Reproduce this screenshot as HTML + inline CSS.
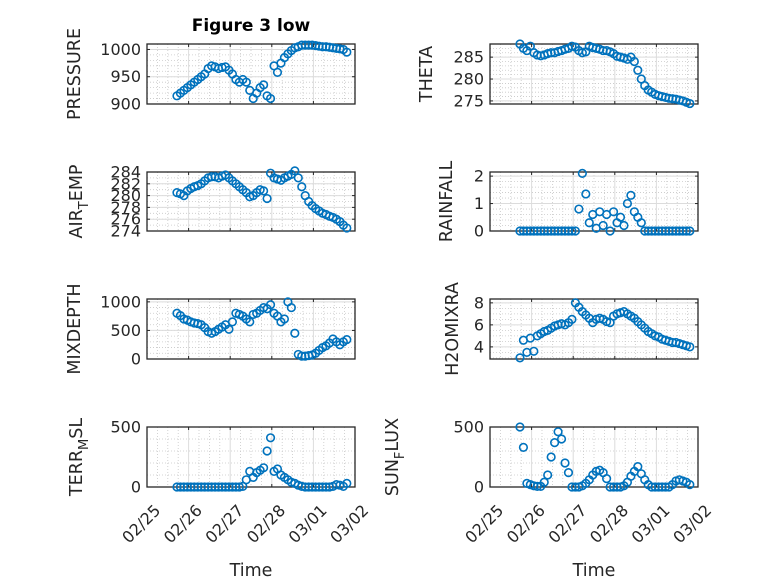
<!DOCTYPE html>
<html><head><meta charset="utf-8"><style>
html,body{margin:0;padding:0;background:#fff;}
svg{display:block;font-family:"DejaVu Sans","Liberation Sans",sans-serif;}
</style></head><body>
<svg id="fig" width="778" height="583" viewBox="0 0 778 583" xmlns="http://www.w3.org/2000/svg"></svg>
<script>
const dayTicks = ['02/25','02/26','02/27','02/28','03/01','03/02'];
const tStart = 0.72, tStep = 1/12;
const pressure = [915,920,925,930,935,940,945,950,955,965,970,968,965,967,968,962,955,945,940,945,940,925,910,920,930,935,915,910,970,958,975,985,992,998,1003,1005,1008,1008,1008,1008,1007,1006,1005,1005,1004,1003,1002,1001,1000,995];
const theta = [288,287,286.5,287.5,286,285.5,285.3,285.5,285.8,286,286,286.3,286.5,286.8,287,287.5,287.3,286.5,286,286.2,287.5,287.2,287,286.8,286.5,286.5,286.2,285.8,285.2,285,284.8,284.5,285,284,282,280,278.5,277.5,277,276.5,276.2,276,275.8,275.6,275.5,275.4,275.2,275,274.7,274.4];
const airTemp = [280.5,280.3,280,280.8,281.2,281.5,281.7,282,282.5,283,283.2,283.2,283,283.3,283.5,283,282.5,282,281.5,281,280.5,279.8,280,280.5,281,280.8,279.5,283.8,283,282.8,282.6,283,283.3,283.6,284.2,283,281.5,280,279,278.3,277.8,277.4,277,276.8,276.5,276.3,276,275.6,275,274.5];
const rainfall = [0,0,0,0,0,0,0,0,0,0,0,0,0,0,0,0,0,0.8,2.1,1.35,0.3,0.6,0.1,0.7,0.2,0.6,0,0.7,0.3,0.5,0.2,1.0,1.3,0.7,0.5,0.3,0,0,0,0,0,0,0,0,0,0,0,0,0,0];
const mixDepth = [800,760,700,680,650,630,620,600,550,480,450,480,520,560,600,520,650,800,780,750,700,650,780,800,850,900,880,950,800,750,650,700,1000,900,450,80,50,50,60,70,100,150,200,230,280,350,300,250,300,340];
const h2oMix = [3.0,4.6,3.5,4.8,3.6,5.0,5.2,5.4,5.5,5.7,5.9,6.0,6.1,6.0,6.2,6.5,8.0,7.6,7.2,6.9,6.6,6.2,6.5,6.6,6.5,6.3,6.2,6.8,7.0,7.1,7.2,7.0,6.8,6.6,6.3,6.0,5.7,5.4,5.2,5.0,4.9,4.7,4.6,4.5,4.4,4.4,4.3,4.2,4.1,4.0];
const terrMsl = [0,0,0,0,0,0,0,0,0,0,0,0,0,0,0,0,0,0,0,5,60,130,80,120,140,160,300,410,130,150,100,80,60,40,30,15,5,0,0,0,0,0,0,0,0,5,20,15,5,30];
const sunFlux = [500,330,30,20,10,5,5,40,100,250,370,460,400,200,120,0,0,0,10,30,60,100,130,140,120,70,0,0,0,0,10,40,90,130,170,110,60,20,0,0,0,0,0,0,20,50,60,50,40,20];

const NS='http://www.w3.org/2000/svg';
const svg=document.getElementById('fig');
function mk(tag,attrs,parent){const e=document.createElementNS(NS,tag);for(const k in attrs)e.setAttribute(k,attrs[k]);(parent||svg).appendChild(e);return e;}

const cols=[{x0:147,x1:355},{x0:490,x1:698}];
const rows=[{y0:44,y1:104},{y0:172,y1:231},{y0:299,y1:359},{y0:427,y1:487}];
const panels=[
 {name:'pressure',data:pressure,c:0,r:0,min:900,max:1010,ticks:[900,950,1000],minor:10,label:['PRESSURE'],lx:80},
 {name:'theta',data:theta,c:1,r:0,min:274.3,max:288,ticks:[275,280,285],minor:1,label:['THETA'],lx:432},
 {name:'air-temp',data:airTemp,c:0,r:1,min:274,max:284,ticks:[274,276,278,280,282,284],minor:1,label:['AIR','T','EMP'],lx:82},
 {name:'rainfall',data:rainfall,c:1,r:1,min:0,max:2.15,ticks:[0,1,2],minor:0.2,label:['RAINFALL'],lx:452},
 {name:'mixdepth',data:mixDepth,c:0,r:2,min:0,max:1050,ticks:[0,500,1000],minor:100,label:['MIXDEPTH'],lx:80},
 {name:'h2omixra',data:h2oMix,c:1,r:2,min:2.9,max:8.35,ticks:[4,6,8],minor:0.5,label:['H2OMIXRA'],lx:458},
 {name:'terr-msl',data:terrMsl,c:0,r:3,min:0,max:500,ticks:[0,500],minor:100,label:['TERR','M','SL'],lx:82},
 {name:'sun-flux',data:sunFlux,c:1,r:3,min:0,max:500,ticks:[0,500],minor:100,label:['SUN','F','LUX'],lx:398},
];

panels.forEach(p=>{
 const C=cols[p.c],R=rows[p.r];
 const xs=t=>C.x0+(t/5)*(C.x1-C.x0);
 const ys=v=>R.y1-(v-p.min)/(p.max-p.min)*(R.y1-R.y0);
 const g=mk('g',{});
 
 
 for(let d=0;d<5;d++)for(let k=1;k<4;k++){const x=xs(d+k/4);mk('line',{x1:x,x2:x,y1:R.y0,y2:R.y1,stroke:'#c8c8c8','stroke-width':0.8,'stroke-dasharray':'1,2'},g);}
 const mStart=Math.ceil(p.min/p.minor)*p.minor;
 for(let v=mStart;v<=p.max+1e-9;v+=p.minor){const y=ys(v);mk('line',{x1:C.x0,x2:C.x1,y1:y,y2:y,stroke:'#c8c8c8','stroke-width':0.8,'stroke-dasharray':'1,2'},g);}
 dayTicks.forEach((d,i)=>{const x=xs(i);mk('line',{x1:x,x2:x,y1:R.y0,y2:R.y1,stroke:'#dcdcdc','stroke-width':1},g);});
 p.ticks.forEach(v=>{const y=ys(v);mk('line',{x1:C.x0,x2:C.x1,y1:y,y2:y,stroke:'#dcdcdc','stroke-width':1},g);});
 mk('rect',{x:C.x0,y:R.y0,width:C.x1-C.x0,height:R.y1-R.y0,fill:'none',stroke:'#262626','stroke-width':1.3},g);
 dayTicks.forEach((d,i)=>{const x=xs(i);mk('line',{x1:x,x2:x,y1:R.y1,y2:R.y1-3,stroke:'#262626'},g);mk('line',{x1:x,x2:x,y1:R.y0,y2:R.y0+3,stroke:'#262626'},g);});
 p.ticks.forEach(v=>{const y=ys(v);mk('line',{x1:C.x0,x2:C.x0+3,y1:y,y2:y,stroke:'#262626'},g);mk('line',{x1:C.x1,x2:C.x1-3,y1:y,y2:y,stroke:'#262626'},g);
   const tl=mk('text',{x:C.x0-6,y:y+5.5,'text-anchor':'end','font-size':16,fill:'#262626'},g);tl.textContent=v;
   
   });
 const lb=mk('text',{transform:`translate(${p.lx},${(R.y0+R.y1)/2}) rotate(-90)`,'text-anchor':'middle','font-size':17.5,fill:'#262626'},g);
 
 
 if(p.label.length===1)lb.textContent=p.label[0];
 else{const a=mk('tspan',{},lb);a.textContent=p.label[0];const b=mk('tspan',{dy:6,'font-size':13},lb);b.textContent=p.label[1];const c=mk('tspan',{dy:-6},lb);c.textContent=p.label[2];}
 if(p.r===3){
  dayTicks.forEach((d,i)=>{const x=xs(i);const tl=mk('text',{transform:`translate(${x+6},${R.y1+16}) rotate(-45)`,'text-anchor':'end','font-size':16,fill:'#262626',dy:'0.75em'},g);tl.textContent=d;
   
   });
  const xl=mk('text',{x:(C.x0+C.x1)/2,y:576,'text-anchor':'middle','font-size':17.5,fill:'#262626'},g);xl.textContent='Time';
  
  
 }
 const mg=mk('g',{},g);
 
 
 p.data.forEach((v,i)=>{const t=tStart+i*tStep;const c=mk('circle',{cx:xs(t),cy:ys(v),r:3.8,fill:'none',stroke:'#0072BD','stroke-width':1.6},mg);
  
  });
});
const title=mk('text',{x:251,y:31,'text-anchor':'middle','font-size':17,'font-weight':'bold',fill:'#000'});
title.textContent='Figure 3 low';


</script>
</body></html>
